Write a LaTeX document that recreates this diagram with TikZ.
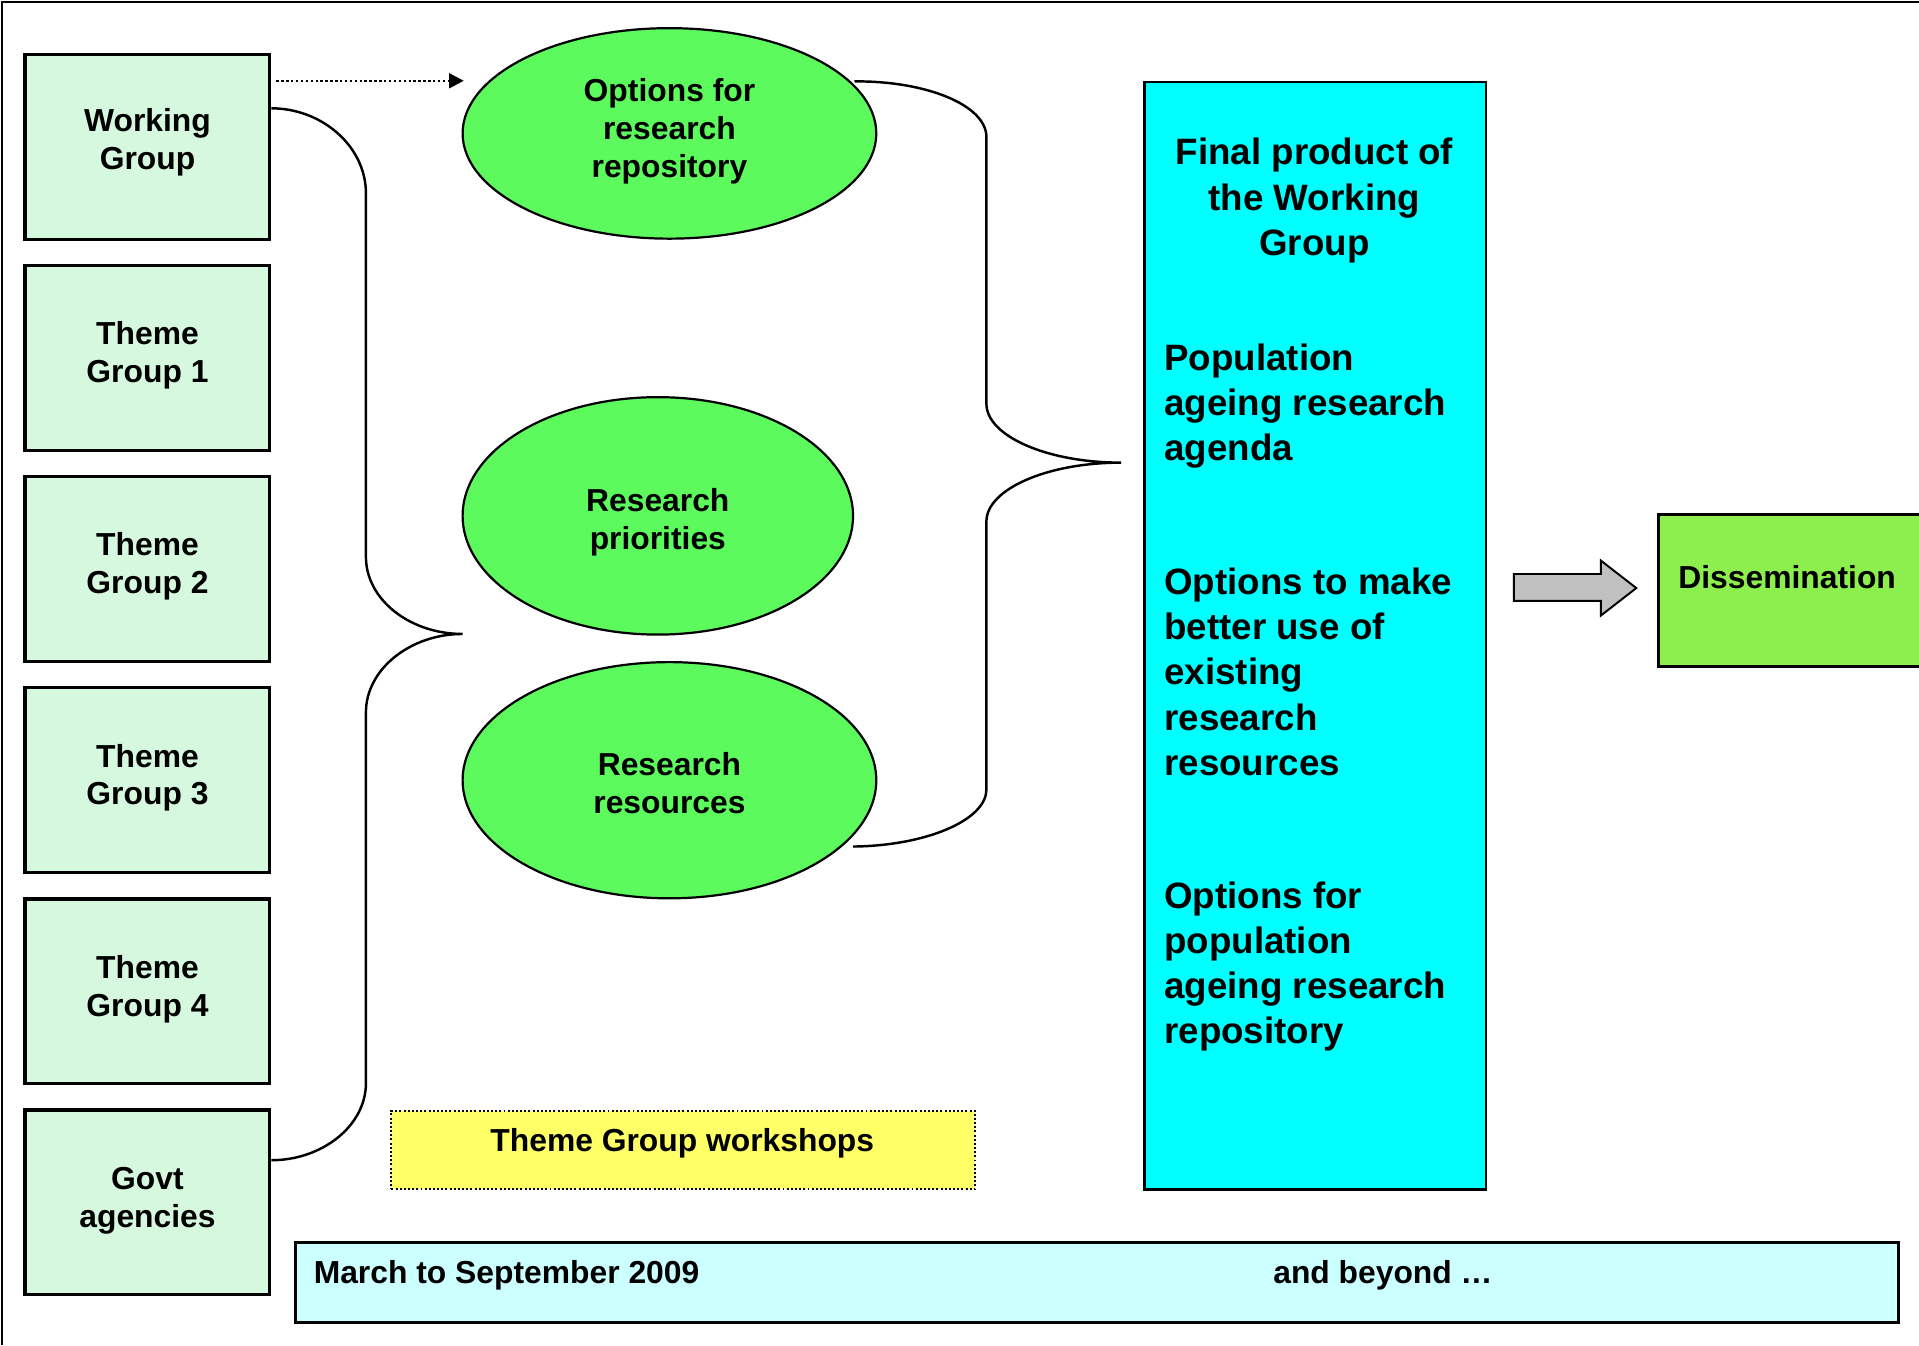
\documentclass[tikz,border=0pt]{standalone}
\usepackage{fontspec}
\setmainfont{Liberation Sans}
\usetikzlibrary{shapes.geometric,arrows.meta,calc}
\definecolor{boxgreen}{HTML}{D6F8DE}
\definecolor{ellgreen}{HTML}{5CFA5C}
\definecolor{cyanbox}{HTML}{00FFFF}
\definecolor{dissgreen}{HTML}{8CEF4E}
\definecolor{yellowbox}{HTML}{FFFF66}
\definecolor{timebox}{HTML}{CCFFFF}
\definecolor{arrowgray}{HTML}{C0C0C0}
\begin{document}
\begin{tikzpicture}[x=0.5pt,y=-0.5pt,
  txt/.style={font=\bfseries\fontsize{13pt}{15.5pt}\selectfont, inner sep=0pt},
  bigtxt/.style={font=\bfseries\fontsize{15pt}{18.5pt}\selectfont, inner sep=0pt},
  groupbox/.style={draw, line width=1.3pt, fill=boxgreen, minimum width=100pt, minimum height=75.5pt, inner sep=0pt},
  outcome/.style={ellipse, draw, line width=0.9pt, fill=ellgreen, inner sep=0pt},
  intext/.style={txt, align=center},
  brace/.style={line width=1pt},
  dotarrow/.style={line width=1pt, dash pattern=on 1pt off 1pt, -{Triangle[length=6pt,width=6pt]}}
]
\useasboundingbox (0,0) rectangle (1568,1099);
\clip (0,0) rectangle (1568,1099);
% frame
\draw[line width=1pt] (1.5,1099) -- (1.5,1.5) -- (1568,1.5);

% left column
\node[groupbox, label={[intext,yshift=2pt]center:Working\\Group}] (wg) at (120.5,120) {};
\node[groupbox, label={[intext,yshift=1pt]center:Theme\\Group 1}] (tg1) at (120.5,292.5) {};
\node[groupbox, label={[intext,yshift=1pt]center:Theme\\Group 2}] (tg2) at (120.5,465) {};
\node[groupbox, label={[intext,yshift=1pt]center:Theme\\Group 3}] (tg3) at (120.5,637.5) {};
\node[groupbox, label={[intext,yshift=1pt]center:Theme\\Group 4}] (tg4) at (120.5,810) {};
\node[groupbox, label={[intext,yshift=0.75pt]center:Govt\\agencies}] (gov) at (120.5,982.5) {};

% ellipses
\node[outcome, minimum width=169pt, minimum height=86pt, label={[intext,yshift=1pt]center:Options for\\research\\repository}] (opt) at (547,109) {};
\node[outcome, minimum width=159.5pt, minimum height=97pt, label={[intext,yshift=-2.5pt]center:Research\\priorities}] (pri) at (537.5,421.5) {};
\node[outcome, minimum width=169pt, minimum height=96.5pt, label={[intext,yshift=-1pt]center:Research\\resources}] (res) at (547,637.5) {};

% dotted arrow
\coordinate (dotend) at (379,66);
\draw[dotarrow] ($(wg.east |- dotend)+(2pt,0)$) -- (dotend);

% left brace
\coordinate (ltip) at (378,518);
\draw[brace] ([yshift=15.75pt]wg.east) .. controls (263,88.5) and (299,119.5) .. (299,158)
  -- (299,455) .. controls (299,490) and (335,518) .. (ltip)
  .. controls (335,518) and (299,547) .. (299,582)
  -- (299,885) .. controls (299,920) and (263,948) .. ([yshift=17.25pt]gov.east);

% right brace
\coordinate (rtip) at (916,378);
\draw[brace] ($(opt.16)+(1.5pt,0)$) .. controls (757,66) and (806,86) .. (806,112)
  -- (806,330) .. controls (806,356) and (855,378) .. (rtip)
  .. controls (855,378) and (806,400) .. (806,426)
  -- (806,645) .. controls (806,670) and (757,691) .. ($(res.-21)+(4.5pt,0)$);

% final product box
\node[draw, line width=1pt, fill=cyanbox, minimum width=139.5pt, minimum height=452.5pt, inner sep=0pt, anchor=north west] (final) at (934,66) {};
\node[bigtxt, align=center, anchor=north] (ftitle) at (1074,112.5) {Final product of\\the Working\\Group};
\node[bigtxt, align=left, anchor=north west] (p1) at (951,280.5) {Population\\ageing research\\agenda};
\node[bigtxt, align=left, anchor=north west] (p2) at (951,463.5) {Options to make\\better use of\\existing\\research\\resources};
\node[bigtxt, align=left, anchor=north west, font=\bfseries\fontsize{15pt}{18.3pt}\selectfont] (p3) at (951,720.5) {Options for\\population\\ageing research\\repository};

% gray block arrow
\draw[line width=0.8pt, fill=arrowgray] (1237,469) -- (1308,469) -- (1308,458) -- (1337,480.5)
  -- (1308,503) -- (1308,491) -- (1237,491) -- cycle;

% dissemination
\node[draw, line width=1.3pt, fill=dissgreen, minimum width=123pt, minimum height=62pt, inner sep=0pt, anchor=north west] (diss) at (1354,419) {};
\node[txt, anchor=base west] (disstxt) at (1371,481) {Dissemination};

% workshops
\node[draw, line width=0.8pt, dash pattern=on 0.8pt off 0.9pt, fill=yellowbox, minimum width=238.5pt, minimum height=32pt, inner sep=0pt, anchor=north west] (tgw) at (319,907) {};
\node[txt, anchor=base] (tgwtxt) at (557.5,941) {Theme Group workshops};

% time line
\node[draw, line width=1.3pt, fill=timebox, minimum width=655pt, minimum height=32.5pt, inner sep=0pt, anchor=north west] (time) at (240,1014) {};
\node[txt, anchor=base west] (t1) at (256,1049) {March to September 2009};
\node[txt, anchor=base west] (t2) at (1040,1049) {and beyond …};
\end{tikzpicture}
\end{document}
